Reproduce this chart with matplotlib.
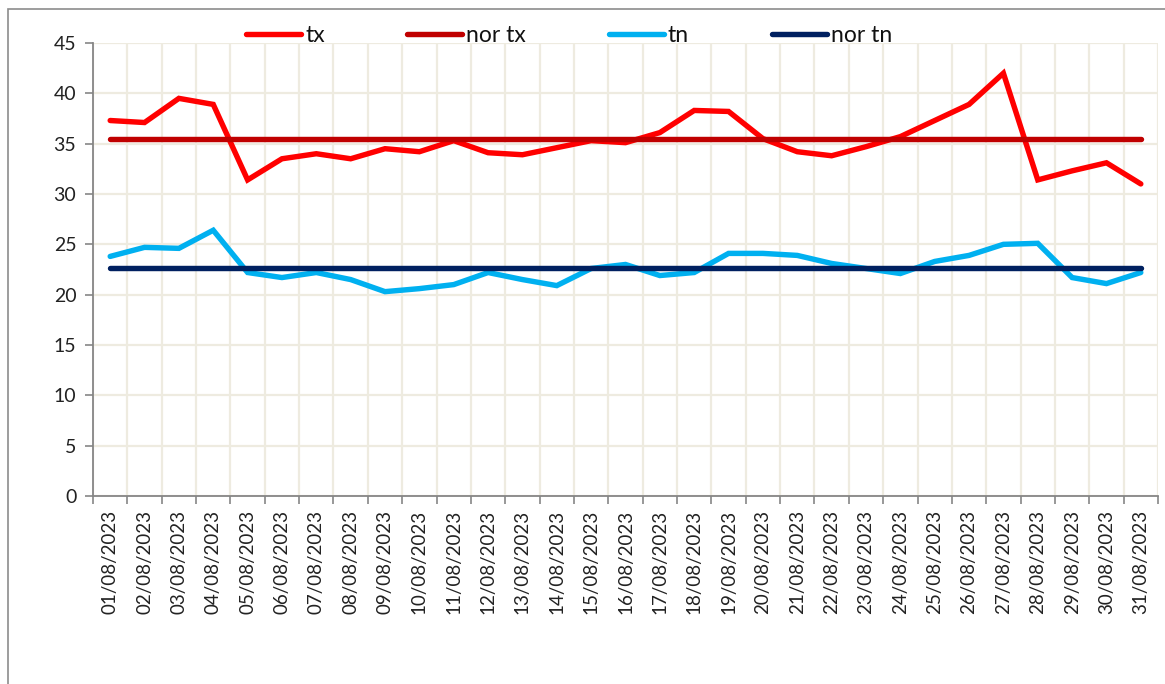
import matplotlib
matplotlib.use("Agg")
import matplotlib.pyplot as plt
from matplotlib.patches import Rectangle

# data
dates = ["%02d/08/2023" % d for d in range(1, 32)]
tx = [37.3, 37.1, 39.5, 38.9, 31.4, 33.5, 34.0, 33.5, 34.5, 34.2,
      35.3, 34.1, 33.9, 34.6, 35.3, 35.1, 36.1, 38.3, 38.2, 35.5,
      34.2, 33.8, 34.7, 35.7, 37.3, 38.9, 42.0, 31.4, 32.3, 33.1, 31.0]
tn = [23.8, 24.7, 24.6, 26.4, 22.2, 21.7, 22.2, 21.5, 20.3, 20.6,
      21.0, 22.2, 21.5, 20.9, 22.6, 23.0, 21.9, 22.2, 24.1, 24.1,
      23.9, 23.1, 22.6, 22.1, 23.3, 23.9, 25.0, 25.1, 21.7, 21.1, 22.2]
nor_tx = [35.5] * len(dates)
nor_tn = [22.6] * len(dates)
y_ticks = list(range(0, 50, 5))

plt.rcParams['font.family'] = ['Lato', 'DejaVu Sans']

W, H = 1165, 684
fig = plt.figure(figsize=(W / 100, H / 100), dpi=100)
ax = fig.add_axes([93 / W, 1 - 496 / H, (1158 - 93) / W, (496 - 43) / H])

x = list(range(len(dates)))
lw = 3.9
ax.plot(x, tx, color='#FF0000', lw=lw, label='tx', solid_capstyle='round', solid_joinstyle='miter')
ax.plot(x, nor_tx, color='#C00000', lw=lw, label='nor tx', solid_capstyle='round')
ax.plot(x, tn, color='#00B0F0', lw=lw, label='tn', solid_capstyle='round', solid_joinstyle='miter')
ax.plot(x, nor_tn, color='#002060', lw=lw, label='nor tn', solid_capstyle='round')

ax.set_xlim(-0.5, len(dates) - 0.5)
ax.set_ylim(0, 45)
ax.set_yticks(y_ticks)
ax.set_xticks(x)
ax.set_xticklabels(dates, rotation=90, fontsize=13.5, color='#222222')
ax.set_xticks([i - 0.5 for i in range(len(dates) + 1)], minor=True)
ax.tick_params(axis='x', which='major', length=0, pad=10)
ax.tick_params(axis='x', which='minor', length=6, width=1.2, color='#868686', direction='out')
ax.tick_params(axis='y', length=6, width=1.2, color='#868686', labelsize=14, labelcolor='#222222', pad=6)

grid_c = '#EEEBE0'
ax.grid(True, axis='y', which='major', color=grid_c, lw=1.6)
ax.grid(True, axis='x', which='minor', color=grid_c, lw=1.6)
ax.grid(False, axis='x', which='major')
ax.set_axisbelow(True)

for s in ['top', 'right']:
    ax.spines[s].set_visible(False)
for s in ['left', 'bottom']:
    ax.spines[s].set_color('#868686')
    ax.spines[s].set_linewidth(1.3)

leg = fig.legend(loc='center', bbox_to_anchor=(569 / W, 1 - 36 / H), ncol=4, frameon=False,
                 fontsize=16.5, handlelength=2.4, handletextpad=0.18, columnspacing=3.6)
for t in leg.get_texts():
    t.set_color('#111111')

# outer chart border, running off the right and bottom edges
fig.patches.append(Rectangle((8 / W, -0.1), 1.2, 1 - 9 / H + 0.1, transform=fig.transFigure,
                             fill=False, edgecolor='#8C8C8C', lw=1.2))

fig.savefig('out.png', dpi=100)
